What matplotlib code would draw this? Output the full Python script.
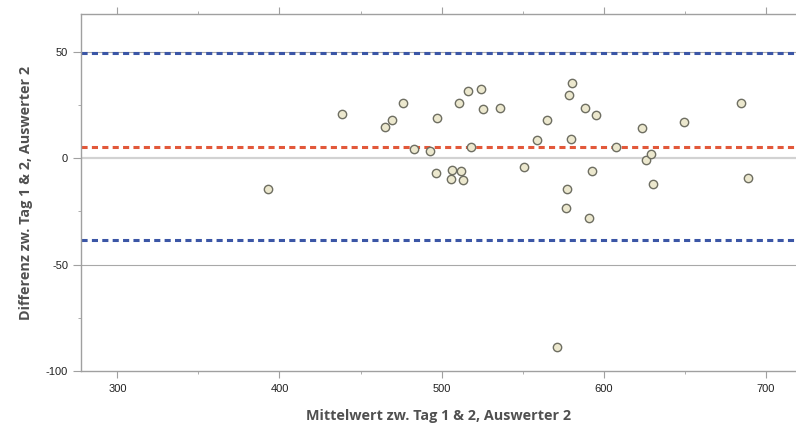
import numpy as np
import matplotlib.pyplot as plt
from matplotlib.ticker import MultipleLocator

# Mittelwert und Differenz je Messung (Tag 1 & 2, Auswerter 2)
mittelwert = [392.9, 438.7, 465.1, 469.4, 476.3, 482.9, 492.8, 496.9, 496.5, 506.4,
              505.9, 510.9, 512.1, 513.0, 516.5, 518.1, 524.4, 525.5, 536.2, 550.8,
              558.5, 565.1, 571.3, 576.5, 577.0, 578.8, 579.8, 580.4, 588.6, 591.0,
              592.8, 595.2, 607.8, 623.8, 626.2, 628.8, 630.5, 649.4, 684.6, 689.1]
differenz = [-14.5, 20.7, 14.6, 17.8, 26.1, 4.5, 3.3, 19.0, -6.8, -5.4,
             -9.6, 25.9, -6.1, -10.4, 31.4, 5.1, 32.6, 22.9, 23.4, -4.2,
             8.4, 17.8, -88.9, -23.4, -14.5, 29.8, 8.8, 35.2, 23.5, -28.1,
             -5.9, 20.2, 5.4, 14.1, -0.7, 2.0, -12.2, 17.0, 26.1, -9.2]

x_ticks = [300, 400, 500, 600, 700]
y_ticks = [-100, -50, 0, 50]

plt.rcParams['axes.unicode_minus'] = False

mw = np.array(mittelwert)
diff = np.array(differenz)
bias = diff.mean()
sd = diff.std(ddof=1)
loa_oben = bias + 1.96 * sd
loa_unten = bias - 1.96 * sd

fig = plt.figure(figsize=(7.96, 4.30), dpi=100)
ax = fig.add_axes([81/796, 1 - 371/430, (796 - 81)/796, (371 - 14)/430])

ax.set_xlim(277.6, 718.5)
ax.set_ylim(-100, 67.7)

# Referenzlinien
ax.axhline(0, color='#d2d2d2', lw=1.6, zorder=1)
for yv in (50, -50):
    ax.axhline(yv, color='#a8a8a8', lw=0.8, zorder=1)

ax.axhline(loa_oben, color='#3b56a6', lw=2.2, dashes=(2, 1.4), zorder=2)
ax.axhline(loa_unten, color='#3b56a6', lw=2.2, dashes=(2, 1.4), zorder=2)
ax.axhline(bias, color='#e2583a', lw=2.2, dashes=(2, 1.4), zorder=2)

ax.scatter(mw, diff, s=36, facecolor='#ece8ce', edgecolor='#6e6e62',
           linewidth=1.0, zorder=3)

ax.xaxis.set_major_locator(plt.FixedLocator(x_ticks))
ax.xaxis.set_minor_locator(MultipleLocator(50))
ax.yaxis.set_major_locator(plt.FixedLocator(y_ticks))
ax.yaxis.set_minor_locator(MultipleLocator(25))

for side in ('top', 'bottom', 'left'):
    ax.spines[side].set_color('#a0a0a0')
    ax.spines[side].set_linewidth(1.0)
ax.spines['right'].set_visible(False)

ax.tick_params(axis='x', which='both', top=True, bottom=True, direction='out',
               color='#a0a0a0', labelsize=8, labelcolor='#222222')
ax.tick_params(axis='x', which='major', length=5, pad=4.4)
ax.tick_params(axis='x', which='minor', length=2.2)
ax.tick_params(axis='y', which='both', left=True, direction='out',
               color='#a0a0a0', labelsize=8, labelcolor='#222222')
ax.tick_params(axis='y', which='major', length=6, pad=3.2)
ax.tick_params(axis='y', which='minor', length=2.2)
for lbl in ax.get_xticklabels() + ax.get_yticklabels():
    lbl.set_family('Liberation Sans')

ax.set_xlabel('Mittelwert zw. Tag 1 & 2, Auswerter 2', family='Open Sans',
              fontweight='bold', fontsize=10.4, color='#505050', labelpad=11)
ax.set_ylabel('Differenz zw. Tag 1 & 2, Auswerter 2', family='Open Sans',
              fontweight='bold', fontsize=10.4, color='#505050', labelpad=9)

fig.savefig('out.png', dpi=100)
